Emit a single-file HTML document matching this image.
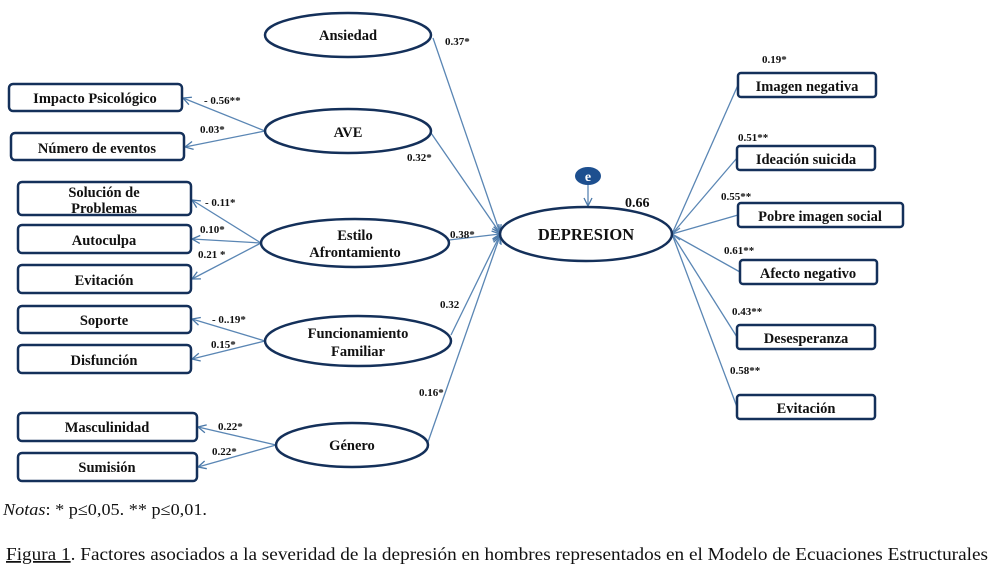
<!DOCTYPE html>
<html><head><meta charset="utf-8"><style>
body{margin:0;background:#fff;width:991px;height:567px;overflow:hidden}
svg text{font-family:"Liberation Serif",serif;font-weight:bold;fill:#111}
</style></head><body>
<svg width="991" height="567" xmlns="http://www.w3.org/2000/svg">
<defs><marker id="a" markerWidth="10" markerHeight="10" refX="9" refY="5" orient="auto" markerUnits="userSpaceOnUse"><path d="M1,1 L9,5 L1,9" fill="none" stroke="#4a78a8" stroke-width="1.3"/></marker></defs>
<g stroke="#5a86b4" stroke-width="1.3" fill="none">
<line x1="433" y1="38" x2="500" y2="233" marker-end="url(#a)"/>
<line x1="431" y1="133" x2="500" y2="233" marker-end="url(#a)"/>
<line x1="449" y1="240" x2="500" y2="234" marker-end="url(#a)"/>
<line x1="451" y1="335" x2="500" y2="235" marker-end="url(#a)"/>
<line x1="428" y1="442" x2="500" y2="236" marker-end="url(#a)"/>
<line x1="588" y1="185" x2="588" y2="206" marker-end="url(#a)"/>
<line x1="265" y1="131" x2="183" y2="98" marker-end="url(#a)"/>
<line x1="265" y1="131" x2="185" y2="147" marker-end="url(#a)"/>
<line x1="261" y1="243" x2="192" y2="200" marker-end="url(#a)"/>
<line x1="261" y1="243" x2="192" y2="239" marker-end="url(#a)"/>
<line x1="261" y1="243" x2="192" y2="279" marker-end="url(#a)"/>
<line x1="265" y1="341" x2="192" y2="319" marker-end="url(#a)"/>
<line x1="265" y1="341" x2="192" y2="359" marker-end="url(#a)"/>
<line x1="276" y1="445" x2="198" y2="427" marker-end="url(#a)"/>
<line x1="276" y1="445" x2="198" y2="467" marker-end="url(#a)"/>
<line x1="672" y1="234" x2="738" y2="85"/>
<line x1="672" y1="234" x2="737" y2="158"/>
<line x1="672" y1="234" x2="738" y2="215"/>
<line x1="672" y1="234" x2="740" y2="272"/>
<line x1="672" y1="234" x2="737" y2="337"/>
<line x1="672" y1="234" x2="737" y2="407"/>
<polyline points="680,228 672,234 680,240"/>
</g>
<g fill="#fff" stroke="#14305a" stroke-width="2.5">
<ellipse cx="348" cy="35" rx="83" ry="22"/>
<ellipse cx="348" cy="131" rx="83" ry="22"/>
<ellipse cx="355" cy="243" rx="94" ry="24"/>
<ellipse cx="358" cy="341" rx="93" ry="25"/>
<ellipse cx="352" cy="445" rx="76" ry="22"/>
<ellipse cx="586" cy="234" rx="86" ry="27"/>
<rect x="9" y="84" width="173" height="27" rx="4"/>
<rect x="11" y="133" width="173" height="27" rx="4"/>
<rect x="18" y="182" width="173" height="33" rx="4"/>
<rect x="18" y="225" width="173" height="28" rx="4"/>
<rect x="18" y="265" width="173" height="28" rx="4"/>
<rect x="18" y="306" width="173" height="27" rx="4"/>
<rect x="18" y="345" width="173" height="28" rx="4"/>
<rect x="18" y="413" width="179" height="28" rx="4"/>
<rect x="18" y="453" width="179" height="28" rx="4"/>
<rect x="738" y="73" width="138" height="24" rx="3"/>
<rect x="737" y="146" width="138" height="24" rx="3"/>
<rect x="738" y="203" width="165" height="24" rx="3"/>
<rect x="740" y="260" width="137" height="24" rx="3"/>
<rect x="737" y="325" width="138" height="24" rx="3"/>
<rect x="737" y="395" width="138" height="24" rx="3"/>
</g>
<ellipse cx="588" cy="176" rx="13" ry="9" fill="#1d4f8f"/>
<text x="588" y="181" font-size="14" text-anchor="middle" style="fill:#fff">e</text>
<g font-size="14.5" text-anchor="middle">
<text x="348" y="40">Ansiedad</text>
<text x="348" y="137">AVE</text>
<text x="355" y="240">Estilo</text><text x="355" y="257">Afrontamiento</text>
<text x="358" y="338">Funcionamiento</text><text x="358" y="356">Familiar</text>
<text x="352" y="450">Género</text>
<text x="586" y="240" font-size="16.5">DEPRESION</text>
<text x="95" y="103">Impacto Psicológico</text>
<text x="97" y="153">Número de eventos</text>
<text x="104" y="197">Solución de</text><text x="104" y="213">Problemas</text>
<text x="104" y="245">Autoculpa</text>
<text x="104" y="285">Evitación</text>
<text x="104" y="325">Soporte</text>
<text x="104" y="365">Disfunción</text>
<text x="107" y="432">Masculinidad</text>
<text x="107" y="472">Sumisión</text>
<text x="807" y="91">Imagen negativa</text>
<text x="806" y="164">Ideación suicida</text>
<text x="820" y="221">Pobre imagen social</text>
<text x="808" y="278">Afecto negativo</text>
<text x="806" y="343">Desesperanza</text>
<text x="806" y="413">Evitación</text>
</g>
<g font-size="11">
<text x="445" y="45">0.37*</text><text x="407" y="161">0.32*</text><text x="450" y="238">0.38*</text>
<text x="440" y="308">0.32</text><text x="419" y="396">0.16*</text>
<text x="204" y="104">- 0.56**</text><text x="200" y="133">0.03*</text>
<text x="205" y="206">- 0.11*</text><text x="200" y="233">0.10*</text><text x="198" y="258">0.21 *</text>
<text x="212" y="323">- 0..19*</text><text x="211" y="348">0.15*</text>
<text x="218" y="430">0.22*</text><text x="212" y="455">0.22*</text>
<text x="762" y="63">0.19*</text><text x="738" y="141">0.51**</text><text x="721" y="200">0.55**</text>
<text x="724" y="254">0.61**</text><text x="732" y="315">0.43**</text><text x="730" y="374">0.58**</text>
<text x="625" y="207" font-size="14">0.66</text>
</g>
<text x="3" y="515" font-size="17" textLength="204" lengthAdjust="spacingAndGlyphs" style="font-weight:normal"><tspan font-style="italic">Notas</tspan>: * p≤0,05. ** p≤0,01.</text>
<text x="6" y="560" font-size="17.5" textLength="982" lengthAdjust="spacingAndGlyphs" style="font-weight:normal"><tspan text-decoration="underline">Figura 1</tspan>. Factores asociados a la severidad de la depresión en hombres representados en el Modelo de Ecuaciones Estructurales</text>
</svg>
</body></html>
